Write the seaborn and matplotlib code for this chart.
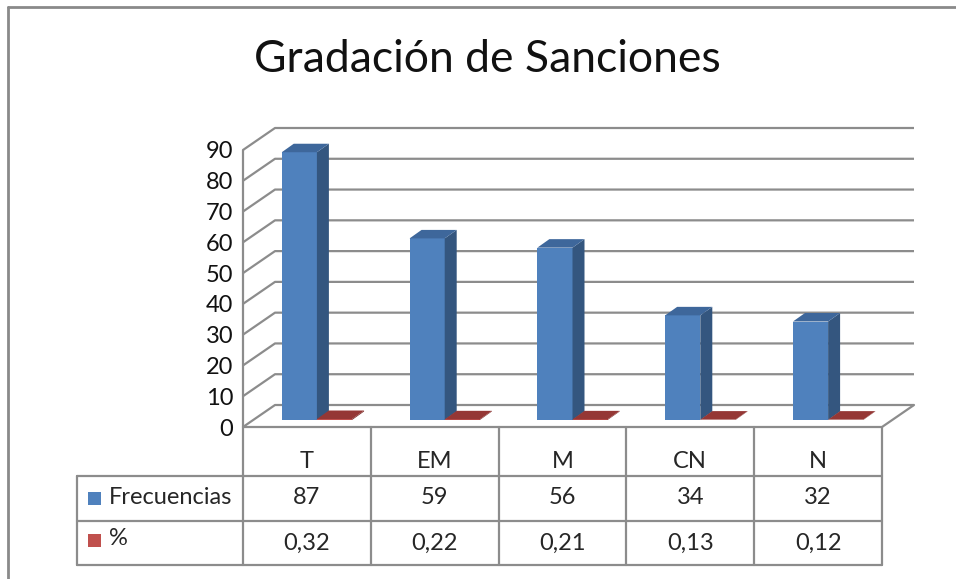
import matplotlib
matplotlib.use("Agg")
import matplotlib.pyplot as plt
import seaborn as sns
import pandas as pd
from matplotlib.patches import Polygon, Rectangle
from matplotlib.lines import Line2D
from matplotlib.transforms import ScaledTranslation

# data
categorias = ['T', 'EM', 'M', 'CN', 'N']
frecuencias = [87, 59, 56, 34, 32]
porcentajes = [0.32, 0.22, 0.21, 0.13, 0.12]
etiquetas_pct = ['0,32', '0,22', '0,21', '0,13', '0,12']
series = ['Frecuencias', '%']
yticks = list(range(0, 100, 10))

AZUL, AZUL_LADO, AZUL_TOPE = '#4F81BD', '#34567f', '#3e679b'
ROJO, ROJO_LADO, ROJO_TOPE = '#C0504D', '#7a2a28', '#953735'
GRIS = '#8c8c8c'

df = pd.DataFrame({
    'categoria': categorias * 2,
    'serie': [series[0]] * len(categorias) + [series[1]] * len(categorias),
    'valor': frecuencias + porcentajes,
})

sns.set_style('white')
plt.rcParams['font.family'] = ['Lato', 'DejaVu Sans']

W, H = 956, 579
fig = plt.figure(figsize=(W / 100, H / 100), dpi=100)


def caja(x0, y0, x1, y1):
    # pixel box (image coords) -> figure rect
    return [x0 / W, 1 - y1 / H, (x1 - x0) / W, (y1 - y0) / H]


ax = fig.add_axes(caja(243, 150, 882, 427))
ax.set_facecolor('none')
sns.barplot(data=df, x='categoria', y='valor', hue='serie', order=categorias,
            hue_order=series, palette={series[0]: AZUL, series[1]: ROJO},
            width=0.55, gap=0, saturation=1, errorbar=None, legend=False, ax=ax)
ax.set_xlim(-0.5, 4.5)
ax.set_ylim(0, 90)

ux = 639 / 5      # px per category
uy = 277 / 90     # px per unit
BX, BY = 32 / ux, 22 / uy       # back wall offset
DX, DY = 12 / ux, 8.5 / uy      # bar depth

# walls and floor
for v in yticks:
    ax.plot([-0.5, -0.5 + BX, 4.5 + BX], [v, v + BY, v + BY], color=GRIS,
            lw=1.6, clip_on=False, zorder=0.5, solid_capstyle='butt')
ax.plot([-0.5, -0.5], [0, 90], color=GRIS, lw=1.6, clip_on=False, zorder=0.5)
ax.plot([-0.5, 4.5, 4.5 + BX], [0, 0, BY], color=GRIS, lw=1.6, clip_on=False, zorder=0.5)

# faux 3d bars
trans_bar = ax.transData + ScaledTranslation(10 / 100, 7 / 100, fig.dpi_scale_trans)
for i, p in enumerate(list(ax.patches)):
    x0, w, h = p.get_x(), p.get_width(), p.get_height()
    x1 = x0 + w
    azul = i < len(categorias)
    lado, tope = (AZUL_LADO, AZUL_TOPE) if azul else (ROJO_LADO, ROJO_TOPE)
    z = 2 + i * 0.01 + (0 if azul else 1)
    p.set_transform(trans_bar)
    p.set_zorder(z)
    p.set_linewidth(0)
    ax.add_patch(Polygon([(x1, 0), (x1 + DX, DY), (x1 + DX, h + DY), (x1, h)],
                         closed=True, facecolor=lado, lw=0, transform=trans_bar,
                         clip_on=False, zorder=z))
    ax.add_patch(Polygon([(x0, h), (x1, h), (x1 + DX, h + DY), (x0 + DX, h + DY)],
                         closed=True, facecolor=tope, lw=0, transform=trans_bar,
                         clip_on=False, zorder=z))
    p.set_clip_on(False)

ax.set_yticks(yticks)
ax.set_xticks([])
ax.set_xlabel('')
ax.set_ylabel('')
ax.tick_params(axis='y', length=0, pad=7, labelsize=17, labelcolor='#111111')
for s in ax.spines.values():
    s.set_visible(False)

# data table
tab = fig.add_axes(caja(77, 427, 882, 566))
x_izq = -0.5 - 166 / ux
tab.set_xlim(x_izq, 4.5)
tab.set_ylim(566, 427)
tab.axis('off')
kw = dict(color=GRIS, lw=1.6, clip_on=False)
for yy in [476, 521, 565]:
    tab.plot([x_izq, 4.5], [yy, yy], **kw)
for xx in [c - 0.5 for c in range(len(categorias) + 1)]:
    tab.plot([xx, xx], [427, 565], **kw)
tab.plot([x_izq, x_izq], [476, 565], **kw)

fs = 17
for i, c in enumerate(categorias):
    tab.text(i, 462, c, ha='center', va='center', fontsize=fs)
    tab.text(i, 498, str(frecuencias[i]), ha='center', va='center', fontsize=fs)
    tab.text(i, 543, etiquetas_pct[i], ha='center', va='center', fontsize=fs)

kx = x_izq + 11 / ux
tab.add_patch(Rectangle((kx, 492), 13 / ux, 13, facecolor=AZUL, lw=0))
tab.add_patch(Rectangle((kx, 534), 13 / ux, 13, facecolor=ROJO, lw=0))
tab.text(x_izq + 32 / ux, 498, series[0], ha='left', va='center', fontsize=fs)
tab.text(x_izq + 32 / ux, 539, series[1], ha='left', va='center', fontsize=fs)

fig.text(487 / W, 1 - 60 / H, 'Gradación de Sanciones', ha='center', va='center',
         fontsize=32, color='#111111')

# chart border (top and left)
fig.add_artist(Line2D([7.5 / W, 7.5 / W], [0, 1 - 6.5 / H], transform=fig.transFigure,
                      color='#8a8a8a', lw=2))
fig.add_artist(Line2D([7.5 / W, 1], [1 - 6.5 / H, 1 - 6.5 / H], transform=fig.transFigure,
                      color='#8a8a8a', lw=2))

fig.savefig('out.png', dpi=100)
